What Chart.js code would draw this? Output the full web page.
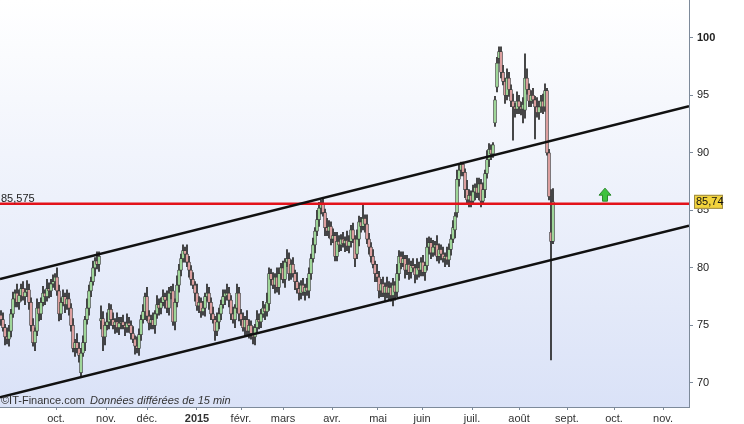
<html><head></head>
<body style="margin:0;background:#fff">
<div style="width:744px;height:424px"><canvas id="myChart" width="744" height="424"></canvas></div>
<script src="https://cdn.jsdelivr.net/npm/chart.js@4/dist/chart.umd.min.js"></script>
<script>
// daily candles, one slot per trading day (slot 0 = end of sept. 2014)
opens = [
75.9,75.5,74.8,74.0,73.8,74.5,76.0,77.3,77.8,77.0,
77.6,78.2,77.5,77.9,78.1,77.0,75.0,73.5,74.5,76.5,
76.0,77.0,77.8,77.5,78.2,78.0,78.6,78.8,79.2,78.0,
76.0,77.0,77.5,76.8,77.3,76.5,75.0,73.0,73.5,73.0,
70.9,72.6,73.5,75.5,76.5,78.0,78.8,80.0,80.6,80.3,
75.4,75.6,74.0,75.0,75.3,76.4,75.5,75.0,75.3,74.8,
75.2,75.3,75.0,74.8,75.2,75.0,74.3,73.8,73.2,73.0,
74.2,75.5,76.2,77.5,75.8,75.2,75.5,75.0,76.0,76.8,
76.5,77.0,77.5,77.2,76.5,77.8,78.0,75.3,77.0,78.5,
79.8,80.8,81.5,81.2,80.5,79.8,79.0,78.5,77.8,76.7,
77.0,76.2,76.5,77.5,77.8,77.0,76.0,75.5,74.5,75.3,
76.0,76.8,77.5,77.6,77.8,77.2,76.0,75.5,76.5,77.8,
76.0,75.5,74.8,75.5,74.5,75.0,74.3,74.0,74.8,75.5,
75.3,76.0,76.5,76.2,76.9,79.5,79.0,78.5,79.2,78.3,
79.5,80.0,79.0,80.5,80.8,79.5,80.3,79.5,78.8,78.2,
77.8,78.5,77.9,78.3,78.0,79.5,80.8,82.0,83.2,84.2,
85.2,85.5,84.8,83.5,83.2,83.6,82.5,82.8,81.0,82.3,
82.0,82.5,82.1,82.4,81.9,82.3,83.3,82.5,81.2,82.5,
84.0,83.6,84.3,83.8,82.5,81.8,81.0,80.3,79.5,79.2,
78.0,78.6,77.8,78.4,77.8,78.3,77.6,78.5,77.9,79.5,
81.0,80.4,80.8,79.8,80.3,79.6,80.2,80.0,79.4,80.0,
79.8,80.5,79.6,80.2,81.8,82.2,81.3,81.8,82.0,81.0,
81.6,81.2,80.8,81.0,80.7,81.6,82.5,83.3,84.8,87.7,
88.5,89.0,88.3,86.8,85.9,86.3,85.8,86.6,87.0,86.5,
87.3,85.8,86.8,88.2,89.4,90.3,89.9,92.6,95.7,98.2,
98.8,97.0,96.2,95.0,96.5,95.5,94.5,94.0,93.8,94.5,
94.0,93.8,93.7,96.5,95.5,94.5,95.0,94.6,94.0,93.5,
94.0,94.5,94.0,95.4,90.0,83.1,82.3
];
highs = [
76.3,76.1,75.1,74.8,75.0,76.4,77.9,78.1,78.6,78.1,
78.6,78.8,78.2,78.9,78.6,77.4,75.6,74.8,77.3,77.0,
77.4,78.4,78.1,79.0,78.7,79.0,79.4,79.5,80.0,78.5,
77.4,78.1,77.8,78.1,77.8,76.9,75.6,73.8,74.3,73.5,
73.0,74.1,75.8,77.3,78.5,79.2,80.6,80.9,81.4,81.4,
76.7,76.2,75.3,76.1,76.9,76.8,76.1,75.6,76.1,75.7,
75.7,75.9,75.3,76.0,75.7,75.4,74.9,74.1,74.0,74.7,
75.9,76.8,77.8,78.3,76.3,75.9,76.1,76.3,77.6,77.3,
77.4,78.1,77.8,78.0,78.3,78.4,78.6,77.3,79.3,80.3,
81.2,82.0,81.8,82.0,81.0,80.2,79.6,78.8,78.6,77.5,
77.4,77.1,77.8,78.6,78.3,77.4,76.6,75.8,76.1,76.5,
77.2,78.1,78.1,78.6,78.3,77.6,76.6,76.8,78.6,78.3,
76.4,76.1,75.8,76.3,75.5,75.4,74.9,75.1,76.3,76.0,
76.4,77.1,76.8,77.8,80.0,79.9,79.6,79.5,80.0,80.0,
80.4,80.6,80.8,81.6,81.3,80.7,80.9,79.8,79.6,78.7,
78.9,79.1,78.6,79.1,80.0,81.2,82.6,83.5,85.0,85.7,
85.9,86.0,85.1,84.3,84.1,84.0,83.4,83.1,83.1,82.8,
82.9,83.1,82.7,83.2,82.8,83.7,83.9,82.8,83.3,84.5,
84.4,85.6,84.6,84.6,83.0,82.2,81.6,80.6,80.3,79.7,
79.0,79.2,78.7,79.2,78.8,78.7,79.1,78.8,80.3,81.5,
81.4,81.4,81.1,81.1,80.8,80.6,80.8,80.3,80.8,80.5,
80.9,81.1,80.5,82.6,82.7,82.6,82.4,82.3,82.8,82.1,
82.0,81.8,81.3,81.8,82.1,82.9,84.1,84.8,88.5,89.0,
89.2,89.2,88.6,87.6,86.8,86.7,87.2,87.3,87.8,87.8,
87.7,87.4,88.5,90.2,90.8,90.7,90.9,94.9,98.3,99.2,
99.2,97.6,96.5,97.3,97.0,95.9,95.1,94.3,95.3,95.0,
94.4,94.8,98.6,97.3,96.0,95.4,95.6,94.9,94.8,94.5,
95.0,95.1,96.0,95.6,90.3,86.8,86.9
];
lows = [
75.0,74.5,73.3,73.4,73.2,74.0,75.7,76.6,76.6,76.4,
77.1,77.2,76.8,77.5,76.4,74.5,73.2,72.8,74.1,75.4,
75.5,76.7,76.8,77.1,77.4,77.5,78.3,78.1,77.6,75.4,
75.5,76.7,76.1,76.4,75.9,74.5,72.7,72.3,72.6,71.8,
70.5,72.3,72.8,75.1,75.9,77.5,78.5,79.3,79.9,79.7,
74.7,72.8,73.3,74.6,74.7,75.0,74.7,74.3,74.4,74.2,
74.7,74.7,74.1,74.4,74.4,73.8,73.5,72.5,72.6,72.4,
73.7,75.2,75.5,75.4,74.6,74.7,74.7,74.3,75.6,75.9,
76.0,76.7,76.5,76.1,75.9,77.3,75.0,74.6,76.6,77.9,
79.3,80.5,80.5,80.1,79.2,78.5,78.2,77.1,76.3,76.1,
75.7,75.9,75.8,77.1,76.4,75.5,75.2,73.7,74.1,74.7,
75.5,76.5,76.8,77.2,76.6,75.5,75.2,74.8,76.1,75.4,
75.0,74.5,74.1,74.1,73.9,73.8,73.4,73.3,74.4,74.7,
74.8,75.7,75.5,75.8,76.3,78.5,78.2,77.8,77.9,77.7,
79.0,78.7,78.3,80.1,78.9,79.0,79.2,78.1,77.8,77.2,
77.3,77.6,77.2,77.6,77.4,79.0,80.5,81.3,82.8,83.6,
84.7,84.5,82.8,82.8,82.6,82.0,82.2,80.6,80.6,81.4,
81.5,81.8,81.4,81.5,81.3,81.8,82.2,80.1,80.8,81.9,
83.1,83.3,83.1,82.1,81.2,80.5,80.0,78.8,78.8,77.4,
77.5,77.5,77.1,77.4,77.2,77.1,76.7,77.2,77.5,78.9,
79.9,80.1,79.1,79.4,79.0,79.1,79.7,78.7,79.0,79.2,
79.3,79.3,78.9,79.8,81.2,80.8,81.0,81.1,80.6,80.4,
80.7,80.5,80.1,80.3,80.1,81.1,82.2,82.6,84.4,87.1,
88.0,88.0,86.1,85.5,85.3,85.3,85.5,85.9,86.1,85.9,
85.3,85.5,86.1,87.8,88.8,89.4,89.6,92.3,95.3,97.8,
96.5,95.9,94.3,94.6,94.9,94.0,91.1,93.1,93.4,93.4,
93.3,92.6,93.0,95.1,94.0,94.0,94.3,91.2,93.1,92.9,
93.5,93.4,93.6,89.8,85.9,72.0,82.1
];
closes = [
75.5,74.8,74.0,73.8,74.5,76.0,77.3,77.8,77.0,77.6,
78.2,77.5,77.9,78.1,77.0,75.0,73.5,74.5,76.5,76.0,
77.0,77.8,77.5,78.2,78.0,78.6,78.8,79.2,78.0,76.0,
77.0,77.5,76.8,77.3,76.5,75.0,73.0,73.5,73.0,72.4,
72.6,73.5,75.5,76.5,78.0,78.8,80.0,80.6,80.3,81.0,
75.6,74.0,75.0,75.3,76.4,75.5,75.0,75.3,74.8,75.2,
75.3,75.0,74.8,75.2,75.0,74.3,73.8,73.2,73.0,74.2,
75.5,76.2,77.5,75.8,75.2,75.5,75.0,76.0,76.8,76.5,
77.0,77.5,77.2,76.5,77.8,78.0,75.3,77.0,78.5,79.8,
80.8,81.5,81.2,80.5,79.8,79.0,78.5,77.8,76.7,77.0,
76.2,76.5,77.5,77.8,77.0,76.0,75.5,74.5,75.3,76.0,
76.8,77.5,77.8,77.8,77.2,76.0,75.5,76.5,77.8,76.0,
75.5,74.8,75.5,74.5,75.0,74.3,74.0,74.8,75.5,75.3,
76.0,76.5,76.2,77.0,79.5,79.0,78.5,79.2,78.3,79.5,
80.0,79.0,80.5,80.8,79.5,80.3,79.5,78.8,78.2,77.8,
78.5,77.9,78.3,78.0,79.5,80.8,82.0,83.2,84.2,85.2,
85.5,84.8,83.5,83.2,83.6,82.5,82.8,81.0,82.3,82.0,
82.5,82.1,82.4,81.9,82.3,83.3,82.5,80.8,82.5,84.0,
83.6,84.3,83.8,82.5,81.8,81.0,80.3,79.5,79.2,78.0,
78.6,77.8,78.4,77.8,78.3,77.6,78.5,77.9,79.5,81.0,
80.4,80.8,79.8,80.3,79.6,80.2,80.0,79.4,80.0,79.8,
80.5,79.6,80.2,81.8,82.2,81.3,81.8,82.0,81.0,81.6,
81.2,80.8,81.0,80.7,81.6,82.5,83.5,84.5,87.7,88.5,
89.0,88.3,86.8,85.9,86.3,85.8,86.6,87.0,86.5,87.3,
85.8,86.8,88.2,89.4,90.3,89.9,90.7,94.6,97.8,98.8,
97.0,96.2,95.0,96.5,95.5,94.5,94.0,93.8,94.5,94.0,
93.8,94.2,96.5,95.5,94.5,95.0,94.6,94.0,93.5,94.0,
94.5,94.0,95.4,90.0,86.2,82.3,85.74
];

monthLabels = ['oct.','nov.','déc.','2015','févr.','mars','avr.','mai','juin','juil.','août','sept.','oct.','nov.'];
monthSlots = [27.5, 52.5, 73, 98, 120, 141, 165.5, 188.5, 210.5, 235.5, 259, 283, 306.5, 331];
yTicks = [70, 75, 80, 85, 90, 95, 100];

channelX = [-0.5, 344];
upperChannel = [79.03, 94.04];
lowerChannel = [68.75, 83.67];
supportLevel = 85.575;
lastPrice = 85.74;
signalSlot = 302;
signalLevel = 85.8;

FONT = 'Liberation Sans, Arial, sans-serif';

wicks = closes.map((c, i) => ({x: i, y: [lows[i], highs[i]]}));
bodies = closes.map((c, i) => ({x: i, y: [opens[i], c]}));
bodyColors = closes.map((c, i) => c >= opens[i] ? '#9fd699' : '#dc9f9f');

bgPlugin = {
  id: 'bg',
  beforeDraw: function(chart) {
    var c = chart.ctx, a = chart.chartArea;
    c.save();
    c.fillStyle = '#ffffff';
    c.fillRect(0, 0, chart.width, chart.height);
    var g = c.createLinearGradient(0, a.top, 0, a.bottom);
    g.addColorStop(0, '#ffffff');
    g.addColorStop(1, '#dae2f7');
    c.fillStyle = g;
    c.fillRect(a.left, a.top, a.right - a.left, a.bottom - a.top);
    c.restore();
  }
};

notesPlugin = {
  id: 'notes',
  afterDraw: function(chart) {
    var c = chart.ctx, xs = chart.scales.x, ys = chart.scales.y, a = chart.chartArea;
    c.save();
    // level label
    var ly = ys.getPixelForValue(supportLevel);
    c.font = '11px ' + FONT;
    c.fillStyle = '#222';
    c.textBaseline = 'alphabetic';
    c.fillText(String(supportLevel).replace('.', ','), 1, ly - 2);

    // last price box
    var py = ys.getPixelForValue(lastPrice);
    c.fillStyle = '#f2d33c';
    c.strokeStyle = '#9c8a4a';
    c.lineWidth = 1;
    c.fillRect(694, py - 7, 29, 14);
    c.strokeRect(694.5, py - 6.5, 28, 13);
    c.fillStyle = '#111';
    c.textBaseline = 'middle';
    c.fillText(lastPrice.toFixed(2).replace('.', ','), 696, py + 0.5);

    // green arrow
    var ax = xs.getPixelForValue(signalSlot), ab = ys.getPixelForValue(signalLevel);
    c.beginPath();
    c.moveTo(ax - 2.5, ab);
    c.lineTo(ax + 2.5, ab);
    c.lineTo(ax + 2.5, ab - 6);
    c.lineTo(ax + 6, ab - 6);
    c.lineTo(ax, ab - 13);
    c.lineTo(ax - 6, ab - 6);
    c.lineTo(ax - 2.5, ab - 6);
    c.closePath();
    c.fillStyle = '#3fc23f';
    c.fill();
    c.strokeStyle = '#2b8a2b';
    c.stroke();

    // source
    c.textBaseline = 'alphabetic';
    c.fillStyle = '#333';
    c.font = '11px ' + FONT;
    c.fillText('©IT-Finance.com', 1, a.bottom - 3);
    c.font = 'italic 11px ' + FONT;
    c.fillText('Données différées de 15 min', 90, a.bottom - 3);
    c.restore();
  }
};

ctx = document.getElementById('myChart').getContext('2d');
myChart = new Chart(ctx, {
  type: 'bar',
  data: {
    datasets: [
      { type: 'line', data: [{x: channelX[0], y: upperChannel[0]}, {x: channelX[1], y: upperChannel[1]}],
        borderColor: '#111', borderWidth: 2.5, pointRadius: 0, order: 1 },
      { type: 'line', data: [{x: channelX[0], y: lowerChannel[0]}, {x: channelX[1], y: lowerChannel[1]}],
        borderColor: '#111', borderWidth: 2.5, pointRadius: 0, order: 1 },
      { type: 'line', data: [{x: channelX[0], y: supportLevel}, {x: channelX[1], y: supportLevel}],
        borderColor: '#e3121b', borderWidth: 2.5, pointRadius: 0, order: 1 },
      { label: 'wicks', data: wicks, backgroundColor: '#222', barThickness: 1, grouped: false, order: 4 },
      { label: 'bodies', data: bodies, backgroundColor: bodyColors, borderColor: '#3a3a3a', borderWidth: 0.7,
        borderSkipped: false, barThickness: 3, grouped: false, order: 3 }
    ]
  },
  options: {
    responsive: false,
    animation: false,
    devicePixelRatio: 1,
    layout: { padding: 0 },
    plugins: { legend: { display: false }, tooltip: { enabled: false } },
    scales: {
      x: {
        type: 'linear', min: -0.5, max: 344, offset: false,
        afterFit: function(s) { s.height = 17; s.paddingLeft = 0; s.paddingRight = 0; },
        afterBuildTicks: function(s) { s.ticks = monthSlots.map(v => ({value: v})); },
        grid: { drawOnChartArea: false, offset: false, tickLength: 3, color: '#7d8a9a' },
        border: { color: '#7d8a9a' },
        ticks: {
          autoSkip: false, maxRotation: 0, padding: 2, color: '#333',
          font: function(c) { return { size: 11, family: FONT, weight: monthLabels[c.index] === '2015' ? 'bold' : 'normal' }; },
          callback: function(v, i) { return monthLabels[i]; }
        }
      },
      y: {
        position: 'right', min: 67.91, max: 103.28,
        afterFit: function(s) { s.width = 55; s.paddingTop = 0; s.paddingBottom = 0; },
        afterBuildTicks: function(s) { s.ticks = yTicks.map(v => ({value: v})); },
        grid: { drawOnChartArea: false, tickLength: 4, color: '#7d8a9a' },
        border: { color: '#7d8a9a' },
        ticks: {
          padding: 4, color: '#222',
          font: function(c) { return { size: 11, family: FONT, weight: c.tick && c.tick.value === 100 ? 'bold' : 'normal' }; },
          callback: function(v) { return String(v); }
        }
      }
    }
  },
  plugins: [bgPlugin, notesPlugin]
});
</script>
</body>
</html>
